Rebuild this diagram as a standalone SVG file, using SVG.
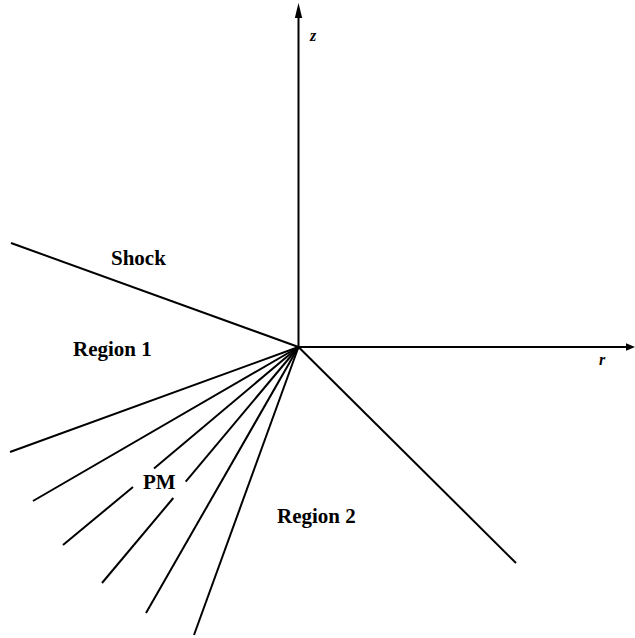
<svg xmlns="http://www.w3.org/2000/svg" width="635" height="638" viewBox="0 0 635 638">
<style>
.ln{stroke:#000;stroke-width:2;fill:none;stroke-linecap:butt}
.lbl{font-family:"Liberation Serif","Times New Roman",serif;font-weight:bold;font-size:21px;fill:#000}
.ax{font-family:"Liberation Serif","Times New Roman",serif;font-style:italic;font-weight:bold;font-size:16px;fill:#000}
</style>
<rect width="635" height="638" fill="#fff"/>
<g id="connectors">
  <line class="ln" x1="298.5" y1="347" x2="298.5" y2="15"/>
  <polygon points="298.5,3 294.8,18 302.2,18" fill="#000"/>
  <line class="ln" x1="298.5" y1="347" x2="626" y2="347"/>
  <polygon points="635,347 626,343.3 626,350.7" fill="#000"/>
  <line class="ln" x1="11" y1="243" x2="298.5" y2="347"/>
  <line class="ln" x1="298.5" y1="347" x2="516" y2="563"/>
  <line class="ln" x1="298.5" y1="347" x2="10" y2="452"/>
  <line class="ln" x1="298.5" y1="347" x2="33" y2="501"/>
  <line class="ln" x1="298.5" y1="347" x2="154" y2="468.5"/>
  <line class="ln" x1="133" y1="487" x2="63" y2="545"/>
  <line class="ln" x1="298.5" y1="347" x2="185.7" y2="481.7"/>
  <line class="ln" x1="173.3" y1="498" x2="102" y2="583"/>
  <line class="ln" x1="298.5" y1="347" x2="146" y2="613"/>
  <line class="ln" x1="298.5" y1="347" x2="194" y2="635"/>
</g>
<g id="axis-z"><text class="ax" x="310" y="41">z</text></g>
<g id="axis-r"><text class="ax" x="599" y="365">r</text></g>
<g id="shock"><text class="lbl" x="111" y="265">Shock</text></g>
<g id="region1"><text class="lbl" x="73" y="356">Region 1</text></g>
<g id="pm"><text class="lbl" x="143" y="489">PM</text></g>
<g id="region2"><text class="lbl" x="277" y="523">Region 2</text></g>
</svg>
